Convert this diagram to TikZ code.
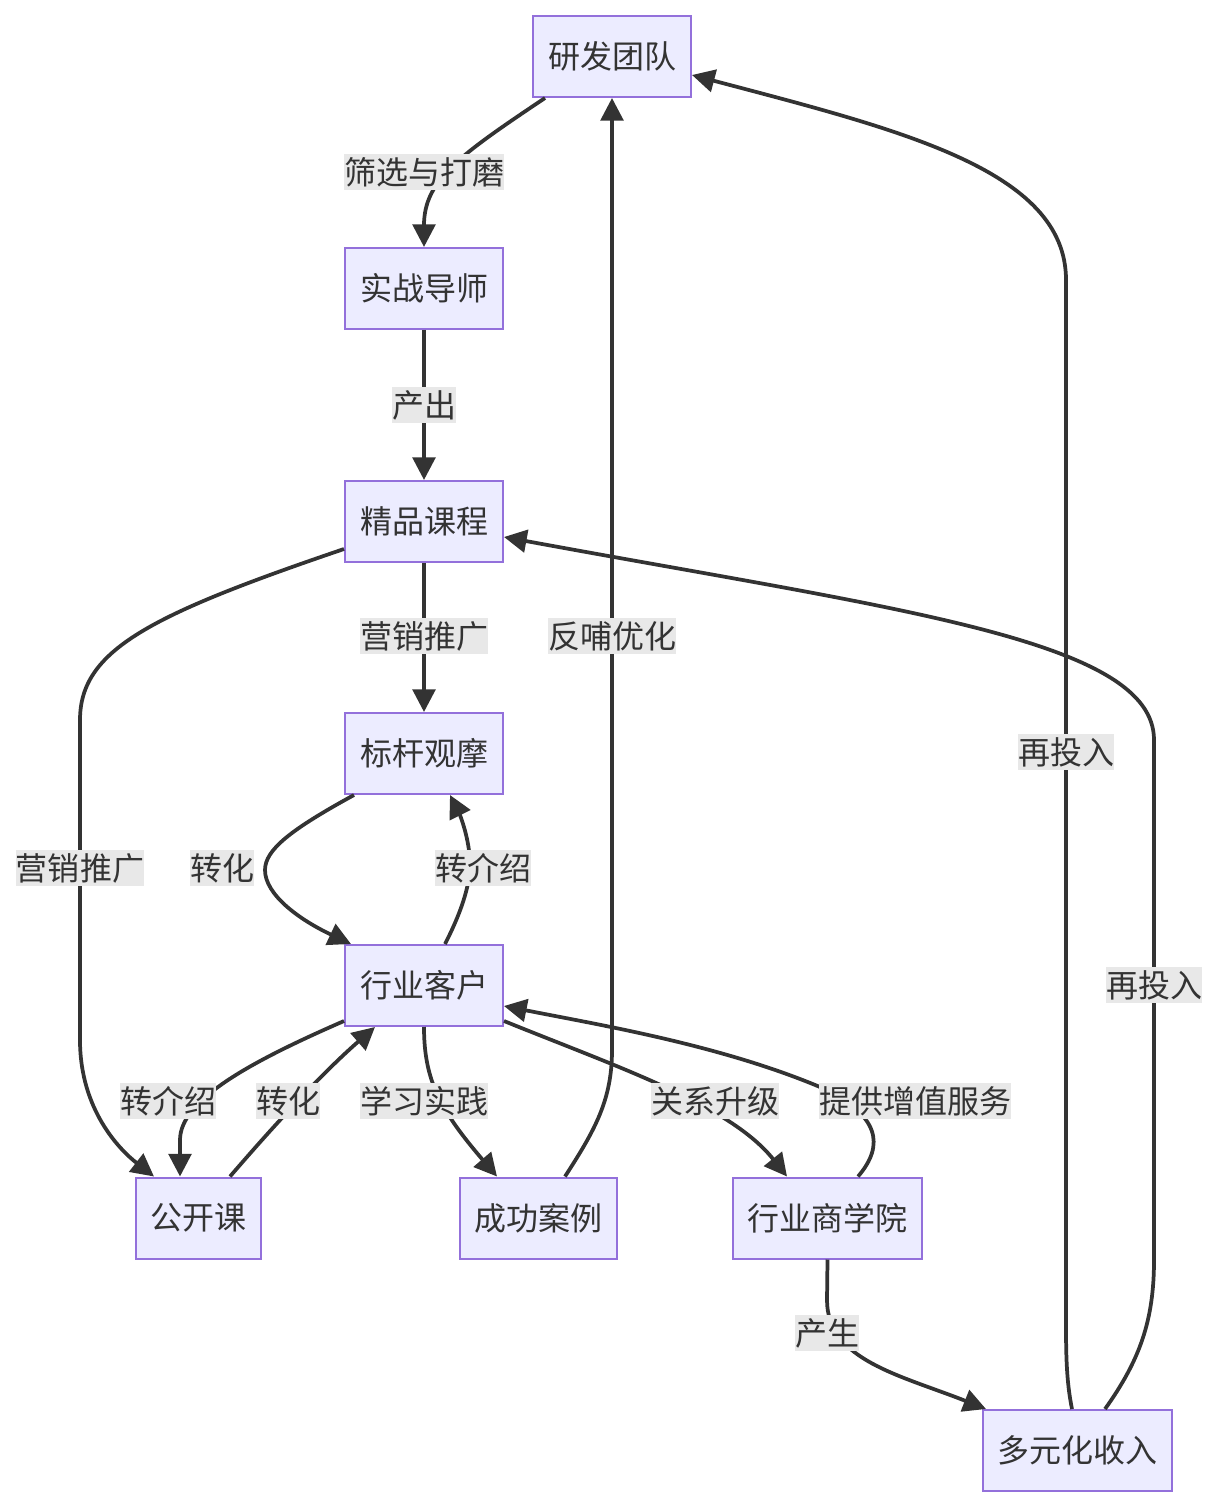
\documentclass[tikz,border=0pt]{standalone}
\usepackage{fontspec}
\newfontfamily\cjk{Noto Sans CJK SC}
\usetikzlibrary{arrows.meta,calc}
\definecolor{boxfill}{HTML}{ECECFF}
\definecolor{boxdraw}{HTML}{9370DB}
\definecolor{ink}{HTML}{333333}
\definecolor{lblbg}{HTML}{E8E8E8}
\tikzset{
  box/.style={draw=boxdraw, fill=boxfill, line width=1.5pt, inner sep=0pt,
    minimum height=60.75pt, minimum width=118.5pt, text=ink,
    font=\cjk\fontsize{24}{28}\selectfont},
  lbl/.style={fill=lblbg, inner xsep=0pt, inner ysep=0pt, minimum height=27pt, text=ink,
    font=\cjk\fontsize{24}{28}\selectfont},
  conn/.style={draw=ink, line width=2.8pt, -{Triangle[length=17pt,width=17pt]}},
}
\begin{document}
\begin{tikzpicture}[x=0.75pt,y=-0.75pt]
\useasboundingbox (0,0) rectangle (1220,1508);
% nodes
\node[box] (yf) at (612,56.5) {研发团队};
\node[box] (sz) at (424,288.5) {实战导师};
\node[box] (jp) at (424,521.5) {精品课程};
\node[box] (bg) at (424,753.5) {标杆观摩};
\node[box] (kh) at (424,985.5) {行业客户};
\node[box, minimum width=93.75pt] (gk) at (198.5,1218) {公开课};
\node[box, minimum width=118pt] (cg) at (538.5,1218) {成功案例};
\node[box, minimum width=141.75pt] (sxy) at (827.5,1218) {行业商学院};
\node[box, minimum width=141.75pt] (dy) at (1077.5,1450.5) {多元化收入};
% connectors
\draw[conn] ($(yf.south)+(-67,0)$) .. controls (460,155) and (424,180) .. (sz.north);
\draw[conn] (sz.south) -- (jp.north);
\draw[conn] (jp.south) -- (bg.north);
\draw[conn] ($(jp.south west)+(0,-14)$) .. controls (150,615) and (80,650) .. (80,720) -- (80,1040) .. controls (80,1110) and (120,1150) .. ($(gk.north west)+(19,0)$);
\draw[conn] ($(bg.south west)+(10,0)$) .. controls (290,830) and (265,850) .. (265,870) .. controls (265,895) and (300,920) .. ($(kh.north west)+(7,0)$);
\draw[conn] ($(kh.north)+(21,0)$) .. controls (465,905) and (470,880) .. (470,865) .. controls (470,840) and (460,815) .. ($(bg.south)+(26,0)$);
\draw[conn] ($(kh.south west)+(0,-6)$) .. controls (250,1062) and (180,1100) .. (180,1140) -- ($(gk.north)+(-18.5,0)$);
\draw[conn] ($(gk.north)+(31.5,0)$) .. controls (270,1130) and (320,1075) .. ($(kh.south)+(-49,0)$);
\draw[conn] (kh.south) .. controls (424,1080) and (440,1110) .. ($(cg.north)+(-41.5,0)$);
\draw[conn] ($(cg.north)+(26.5,0)$) .. controls (595,1130) and (612,1100) .. (612,1050) -- (yf.south);
\draw[conn] ($(kh.south east)+(0,-6)$) .. controls (620,1068) and (730,1105) .. ($(sxy.north)+(-40.5,0)$);
\draw[conn] ($(sxy.north)+(30.5,0)$) .. controls (885,1145) and (880,1115) .. (820,1087) .. controls (720,1045) and (600,1025) .. ($(kh.east)+(0,20.5)$);
\draw[conn] (sxy.south) -- (827,1300) .. controls (827,1360) and (900,1375) .. ($(dy.north west)+(4,0)$);
\draw[conn] ($(dy.north)+(-5.5,0)$) .. controls (1066,1380) and (1066,1350) .. (1066,1320) -- (1066,280) .. controls (1066,170) and (900,130) .. ($(yf.east)+(0,18.5)$);
\draw[conn] ($(dy.north)+(27.5,0)$) .. controls (1140,1360) and (1154,1320) .. (1154,1260) -- (1154,740) .. controls (1154,640) and (900,610) .. ($(jp.east)+(0,15.5)$);
% labels
\node[lbl] (l1) at (424,172) {筛选与打磨};
\node[lbl] (l2) at (424,405) {产出};
\node[lbl] (l3) at (424,636) {营销推广};
\node[lbl] (l4) at (80,868) {营销推广};
\node[lbl] (l5) at (222,868) {转化};
\node[lbl] (l6) at (483,868) {转介绍};
\node[lbl] (l7) at (168,1101) {转介绍};
\node[lbl] (l8) at (288,1101) {转化};
\node[lbl] (l9) at (424,1101) {学习实践};
\node[lbl] (l10) at (612,636) {反哺优化};
\node[lbl] (l11) at (715,1101) {关系升级};
\node[lbl] (l12) at (915,1101) {提供增值服务};
\node[lbl] (l13) at (827,1333) {产生};
\node[lbl] (l14) at (1066,752) {再投入};
\node[lbl] (l15) at (1154,985) {再投入};
\end{tikzpicture}
\end{document}
